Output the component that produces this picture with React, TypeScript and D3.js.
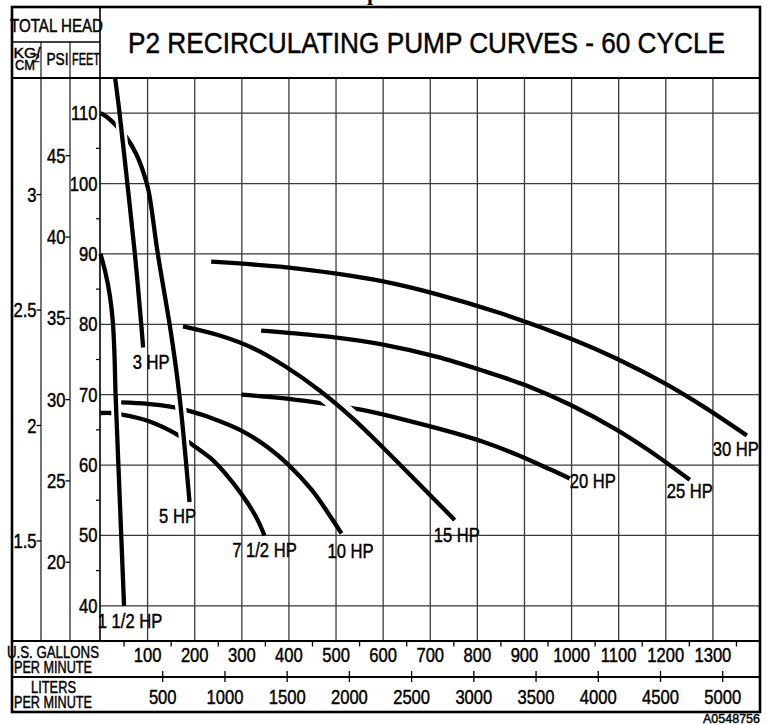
import React from "react";
import * as d3 from "d3";

// ---------- data ----------
const GPM_TICKS = [100, 200, 300, 400, 500, 600, 700, 800, 900, 1000, 1100, 1200, 1300];
const GPM_MINOR = [50, 150, 250, 350, 450, 550, 650, 750, 850, 950, 1050, 1150, 1250, 1350];
const LPM_TICKS = [500, 1000, 1500, 2000, 2500, 3000, 3500, 4000, 4500, 5000];
const FEET_TICKS = [40, 50, 60, 70, 80, 90, 100, 110];
const FEET_MINOR = [45, 55, 65, 75, 85, 95, 105];
const PSI_TICKS = [20, 25, 30, 35, 40, 45];
const KG_TICKS = [1.5, 2, 2.5, 3];

// [gpm, feet]
const HP_1_5: [number, number][] = [[0, 90], [11, 87.2], [20, 84], [26, 80.5], [29.5, 76], [32, 70], [35, 65], [38, 60], [41, 55], [44, 50], [47, 45], [50, 40]];
const HP_3: [number, number][] = [[31, 115], [40.5, 110], [57, 100], [73, 90], [86.5, 80], [90.5, 76.7]];
const HP_5: [number, number][] = [[0, 110], [15, 109.4], [31, 108.4], [54.6, 106.6], [75.8, 104.2], [92, 101.4], [102, 99], [121.7, 90], [150, 78.6], [168, 69.6], [189, 54.75]];
const HP_7_5: [number, number][] = [[0, 67.4], [22, 67.4], [44, 67.2], [100, 66.3], [164, 64.3], [186, 63.3], [235, 60.9], [270, 58.4], [300, 55.8], [320, 53.8], [335, 52], [348, 50]];
const HP_10: [number, number][] = [[44, 68.9], [100, 68.7], [157, 68.2], [182, 67.8], [235, 66.7], [299, 64.9], [355.6, 62.5], [398, 60.1], [448, 56.5], [483, 53.2], [511.6, 50.3]];
const HP_15: [number, number][] = [[175, 79.7], [253, 78.4], [324, 76.6], [395, 73.9], [465, 70.6], [536, 66.6], [607, 62.0], [678, 57.2], [752, 52.2]];
const HP_20: [number, number][] = [[299, 70], [400, 69.4], [486, 68.6], [550, 67.9], [642, 66.5], [749, 64.6], [812, 63.3], [883, 61.5], [954, 59.4], [996, 58.1]];
const HP_25: [number, number][] = [[341, 79.1], [430, 78.6], [501, 78.1], [600, 77.1], [713, 75.4], [812, 73.4], [904, 71.3], [996, 68.6], [1096, 65.0], [1166, 62.0], [1251, 57.9]];
const HP_30: [number, number][] = [[235, 88.9], [395, 88.1], [501, 87.2], [600, 86.1], [713, 84.3], [848, 81.6], [1004, 77.8], [1096, 75.1], [1195, 71.7], [1280, 68.3], [1372, 64.2]];

const CURVE_NAMES = ["20 HP", "7 1/2 HP", "10 HP", "5 HP", "1 1/2 HP", "3 HP", "15 HP", "25 HP", "30 HP"];
const CURVE_DATA = [HP_20, HP_7_5, HP_10, HP_5, HP_1_5, HP_3, HP_15, HP_25, HP_30];

// ---------- styles / layout ----------
const W = 770, H = 725;
const FL = 12, FT = 7, FR = 760, FB = 712;
const HEAD_MID = 42, HEAD_BOT = 78;
const COL1 = 41, COL2 = 70, PLOT_L = 100;
const ROW1 = 641, ROW2 = 677;
const FONT = "'Liberation Sans', Arial, Helvetica, sans-serif";
const SX = 0.83;
const TXT_STROKE = 0.45;

const LABEL_OFF: Record<string, { dx: number; dy: number; anchor: string }> = {
  "1 1/2 HP": { dx: 6, dy: 22, anchor: "middle" },
  "3 HP": { dx: 8, dy: 21, anchor: "middle" },
  "5 HP": { dx: -12, dy: 21, anchor: "middle" },
  "7 1/2 HP": { dx: 0, dy: 22, anchor: "middle" },
  "10 HP": { dx: 9, dy: 25, anchor: "middle" },
  "15 HP": { dx: 2, dy: 22, anchor: "middle" },
  "20 HP": { dx: 0, dy: 10, anchor: "start" },
  "25 HP": { dx: 0, dy: 18, anchor: "middle" },
  "30 HP": { dx: -11, dy: 20, anchor: "middle" },
};

// gaps where one curve passes under another
const CUTS = [
  { under: "5 HP", over: "3 HP", w: 10 },
  { under: "7 1/2 HP", over: "1 1/2 HP", w: 10 },
  { under: "7 1/2 HP", over: "5 HP", w: 10 },
  { under: "10 HP", over: "5 HP", w: 11 },
  { under: "20 HP", over: "15 HP", w: 16 },
];

const x = d3.scaleLinear().domain([0, 1400]).range([100.5, FR]);
const xL = d3.scaleLinear().domain([0, 1400 * 3.78541]).range([100.5, FR]);
const y = d3.scaleLinear().domain([35, 115]).range([ROW1, HEAD_BOT]);
const yPsi = d3.scaleLinear().domain([35 / 2.31, 115 / 2.31]).range([ROW1, HEAD_BOT]);
const yKg = d3.scaleLinear().domain([35 / 32.81, 115 / 32.81]).range([ROW1, HEAD_BOT]);

const line = d3
  .line<[number, number]>()
  .x((d) => x(d[0]))
  .y((d) => y(d[1]))
  .curve(d3.curveCatmullRom.alpha(0.5));

function CT(props: { x: number; y: number; size?: number; anchor?: string; sx?: number; children: React.ReactNode }) {
  const { size = 20, anchor = "middle", sx = SX } = props;
  return (
    <text
      transform={`translate(${props.x},${props.y}) scale(${sx},1)`}
      fontSize={size}
      fontFamily={FONT}
      textAnchor={anchor as any}
      fill="#000"
      stroke="#000"
      strokeWidth={TXT_STROKE}
    >
      {props.children}
    </text>
  );
}

function LT(props: { x: number; y: number; size: number; len: number; anchor?: string; children: React.ReactNode }) {
  return (
    <text
      x={props.x}
      y={props.y}
      fontSize={props.size}
      fontFamily={FONT}
      textAnchor={(props.anchor || "middle") as any}
      textLength={props.len}
      lengthAdjust="spacingAndGlyphs"
      fill="#000"
      stroke="#000"
      strokeWidth={TXT_STROKE}
    >
      {props.children}
    </text>
  );
}

export default function App() {
  const byName: Record<string, [number, number][]> = {};
  CURVE_NAMES.forEach((n, i) => (byName[n] = CURVE_DATA[i]));
  const gridColor = "#3a3a3a";

  return (
    <svg
      width={W}
      height={H}
      viewBox={`0 0 ${W} ${H}`}
      style={{ position: "absolute", left: 0, top: 0, display: "block", background: "#fff" }}
    >
      <rect x={0} y={0} width={W} height={H} fill="#fff" />
      <defs>
        {CURVE_NAMES.map((n, i) => {
          const cuts = CUTS.filter((c) => c.under === n);
          if (!cuts.length) return null;
          return (
            <mask id={`cut-${i}`} key={n} maskUnits="userSpaceOnUse" x={0} y={0} width={W} height={H}>
              <rect x={0} y={0} width={W} height={H} fill="white" />
              {cuts.map((c, j) => (
                <path key={j} d={line(byName[c.over]) || ""} stroke="black" strokeWidth={c.w} fill="none" />
              ))}
            </mask>
          );
        })}
        <clipPath id="plotclip">
          <rect x={PLOT_L - 2} y={HEAD_BOT} width={FR - PLOT_L + 2} height={ROW1 - HEAD_BOT} />
        </clipPath>
      </defs>

      {/* cut-off text from above */}
      <text x={367} y={0} fontSize={22} fontWeight="bold" fontFamily="'Liberation Serif', serif">p</text>

      {/* grid */}
      {GPM_TICKS.map((g) => (
        <line key={`vg${g}`} x1={x(g)} x2={x(g)} y1={HEAD_BOT} y2={ROW1} stroke={gridColor} strokeWidth={1.3} />
      ))}
      {FEET_TICKS.map((f) => (
        <line key={`hg${f}`} x1={PLOT_L} x2={FR} y1={y(f)} y2={y(f)} stroke={gridColor} strokeWidth={1.3} />
      ))}
      {FEET_MINOR.map((f) => (
        <line key={`fm${f}`} x1={PLOT_L - 4} x2={PLOT_L} y1={y(f)} y2={y(f)} stroke="#000" strokeWidth={1.2} />
      ))}

      {/* frame structure */}
      <line x1={COL1} x2={COL1} y1={HEAD_MID} y2={ROW1} stroke={gridColor} strokeWidth={1.4} />
      <line x1={COL2} x2={COL2} y1={HEAD_MID} y2={ROW1} stroke={gridColor} strokeWidth={1.4} />
      <line x1={PLOT_L} x2={PLOT_L} y1={FT} y2={ROW1} stroke="#000" strokeWidth={1.6} />
      <line x1={FL} x2={PLOT_L} y1={HEAD_MID} y2={HEAD_MID} stroke="#000" strokeWidth={1.5} />
      <line x1={FL} x2={FR} y1={HEAD_BOT} y2={HEAD_BOT} stroke="#000" strokeWidth={1.8} />
      <line x1={FL} x2={FR} y1={ROW1} y2={ROW1} stroke="#000" strokeWidth={1.8} />
      <line x1={FL} x2={FR} y1={ROW2} y2={ROW2} stroke="#000" strokeWidth={1.8} />
      <rect x={FL} y={FT} width={FR - FL} height={FB - FT} fill="none" stroke="#000" strokeWidth={2.6} />

      {/* curves */}
      <g clipPath="url(#plotclip)">
        {CURVE_NAMES.map((n, i) => {
          const hasCut = CUTS.some((c) => c.under === n);
          return (
            <path
              key={n}
              d={line(CURVE_DATA[i]) || ""}
              fill="none"
              stroke="#000"
              strokeWidth={4.3}
              strokeLinecap="butt"
              mask={hasCut ? `url(#cut-${i})` : undefined}
            />
          );
        })}
      </g>

      {/* curve labels */}
      {CURVE_NAMES.map((n, i) => {
        const d = CURVE_DATA[i];
        const last = d[d.length - 1];
        const o = LABEL_OFF[n];
        return (
          <CT key={`l${n}`} x={x(last[0]) + o.dx} y={y(last[1]) + o.dy} anchor={o.anchor}>
            {n}
          </CT>
        );
      })}

      {/* y tick labels */}
      {FEET_TICKS.map((f) => (
        <CT key={`ft${f}`} x={97.5} y={y(f) + 7} anchor="end">
          {f}
        </CT>
      ))}
      {PSI_TICKS.map((p) => (
        <g key={`psi${p}`}>
          <line x1={COL2 - 4.5} x2={COL2} y1={yPsi(p)} y2={yPsi(p)} stroke="#000" strokeWidth={1.3} />
          <CT x={COL2 - 4.5} y={yPsi(p) + 7} anchor="end">
            {p}
          </CT>
        </g>
      ))}
      {KG_TICKS.map((k) => (
        <g key={`kg${k}`}>
          <line x1={COL1 - 4.5} x2={COL1} y1={yKg(k)} y2={yKg(k)} stroke="#000" strokeWidth={1.3} />
          <CT x={COL1 - 4.5} y={yKg(k) + 7} anchor="end">
            {String(k)}
          </CT>
        </g>
      ))}

      {/* x axes */}
      {GPM_MINOR.map((g) => (
        <line key={`gm${g}`} x1={x(g)} x2={x(g)} y1={ROW1} y2={ROW1 + 5.5} stroke="#000" strokeWidth={1.3} />
      ))}
      {GPM_TICKS.map((g) => (
        <CT key={`gl${g}`} x={x(g)} y={662}>
          {g}
        </CT>
      ))}
      {LPM_TICKS.map((l) => (
        <g key={`lp${l}`}>
          <line x1={xL(l)} x2={xL(l)} y1={ROW2 - 6} y2={ROW2 + 5} stroke="#000" strokeWidth={1.3} />
          <CT x={xL(l)} y={704}>
            {l}
          </CT>
        </g>
      ))}

      {/* header texts */}
      <LT x={426.5} y={53} size={29} len={597}>P2 RECIRCULATING PUMP CURVES - 60 CYCLE</LT>
      <LT x={56.5} y={31.5} size={19} len={93}>TOTAL HEAD</LT>
      <LT x={27} y={57.5} size={14.5} len={27}>KG/</LT>
      <LT x={25} y={70} size={14.5} len={20}>CM</LT>
      <text x={33.5} y={62} fontSize={11} fontFamily={FONT} stroke="#000" strokeWidth={0.3}>2</text>
      <LT x={57.5} y={65} size={16} len={22}>PSI</LT>
      <LT x={86} y={65} size={16} len={28}>FEET</LT>

      <LT x={53} y={658} size={16.5} len={92}>U.S. GALLONS</LT>
      <LT x={53} y={673} size={16.5} len={78}>PER MINUTE</LT>
      <LT x={53.5} y={693} size={16.5} len={45}>LITERS</LT>
      <LT x={53} y={708} size={16.5} len={78}>PER MINUTE</LT>

      <LT x={760} y={723} size={13} len={57} anchor="end">A0548756</LT>
    </svg>
  );
}
